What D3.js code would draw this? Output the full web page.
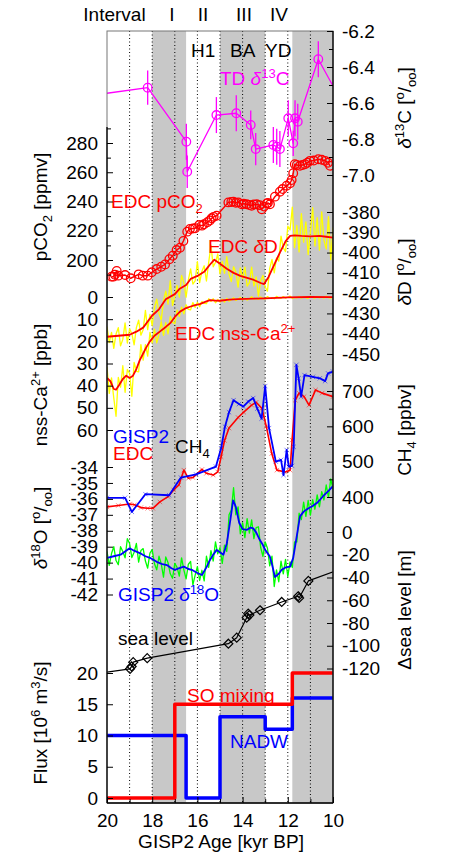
<!DOCTYPE html>
<html>
<head>
<meta charset="utf-8">
<script src="https://cdn.jsdelivr.net/npm/d3@7"></script>
<style>
  body { margin: 0; background: #fff; }
  text { font-family: "Liberation Sans", Arial, sans-serif; }
</style>
</head>
<body>
<script>
// ---- data ----
var bands = [[18, 16.5], [15, 13], [11.8, 10]];
var dottedAges = [19, 18, 17, 16, 15, 14, 13, 12, 11];
var intervalNames = ['I', 'II', 'III', 'IV'];
var intervalX = [172, 203, 244, 279];

// TD delta13C (points outside 20..10 only carry the line to the edge)
var d13cAge = [20.6, 18.2, 16.49, 16.45, 15.16, 14.28, 13.64, 13.42, 12.64, 12.49, 12.35, 11.98, 11.76, 11.68, 11.56, 10.65, 9.6];
var d13cVal = [-6.556, -6.515, -6.815, -6.982, -6.667, -6.657, -6.722, -6.856, -6.833, -6.843, -6.856, -6.685, -6.824, -6.685, -6.704, -6.357, -6.597];
var d13cErr = [0.1, 0.095, 0.1, 0.09, 0.1, 0.1, 0.08, 0.09, 0.1, 0.1, 0.1, 0.1, 0.07, 0.1, 0.1, 0.1, 0.1];

// EDC pCO2
var co2Age = [19.8, 19.72, 19.65, 19.57, 19.5, 19.2, 18.95, 18.6, 18.42, 18.2, 18.02, 17.8, 17.6, 17.43, 17.24, 17.09, 16.92, 16.77, 16.62, 16.45, 16.33, 16.2, 16.1, 15.92, 15.8, 15.71, 15.56, 15.45, 15.37, 15.28, 15.15, 14.63, 14.5, 14.41, 14.3, 14.19, 14.04, 13.95, 13.82, 13.7, 13.6, 13.5, 13.38, 13.25, 13.15, 13.05, 12.93, 12.88, 12.79, 12.57, 12.35, 12.23, 12.05, 11.9, 11.83, 11.76, 11.69, 11.6, 11.46, 11.35, 11.24, 11.13, 11.02, 10.85, 10.65, 10.5, 10.35, 10.22, 10.13];
var co2Val = [188.6, 188.6, 190, 192.5, 189.3, 189.7, 187.5, 190.2, 189.3, 189.3, 191.6, 193.8, 195.4, 197.0, 200.5, 202.9, 206.8, 208.4, 213, 219.4, 221.2, 221.5, 221.7, 223.9, 223.5, 224.4, 225.8, 227, 228.5, 229.5, 230.3, 239.4, 239.7, 239.9, 239.1, 239.4, 238.1, 238.5, 238.1, 237.6, 237.1, 238, 238.1, 237.5, 234.7, 236.5, 238.7, 239, 238.1, 243.3, 246.7, 248.5, 250.8, 252.5, 254.7, 259.3, 265.5, 265, 264.4, 265, 265.5, 266.5, 267.8, 268, 268.9, 268.5, 267.8, 266.5, 264.4];

// raw ice-core records, one value every 0.1 kyr
var rawAge = [20.0, 19.9, 19.8, 19.7, 19.6, 19.5, 19.4, 19.3, 19.2, 19.1,
  19.0, 18.9, 18.8, 18.7, 18.6, 18.5, 18.4, 18.3, 18.2, 18.1,
  18.0, 17.9, 17.8, 17.7, 17.6, 17.5, 17.4, 17.3, 17.2, 17.1,
  17.0, 16.9, 16.8, 16.7, 16.6, 16.5, 16.4, 16.3, 16.2, 16.1,
  16.0, 15.9, 15.8, 15.7, 15.6, 15.5, 15.4, 15.3, 15.2, 15.1,
  15.0, 14.9, 14.8, 14.7, 14.6, 14.5, 14.4, 14.3, 14.2, 14.1,
  14.0, 13.9, 13.8, 13.7, 13.6, 13.5, 13.4, 13.3, 13.2, 13.1,
  13.0, 12.9, 12.8, 12.7, 12.6, 12.5, 12.4, 12.3, 12.2, 12.1,
  12.0, 11.9, 11.8, 11.7, 11.6, 11.5, 11.4, 11.3, 11.2, 11.1,
  11.0, 10.9, 10.8, 10.7, 10.6, 10.5, 10.4, 10.3, 10.2, 10.1,
  10.0];
var dDRaw = [-436.5, -444.4, -439.3, -447.2, -440.1, -437, -446, -442.8, -434.7, -444.6,
  -437.5, -440, -445.5, -437, -433.3, -440.7, -438, -428.5, -438, -430.5,
  -436, -427, -423, -430, -433.3, -423.7, -419, -425.4, -413.8, -426.1,
  -421.5, -416.2, -422, -411.3, -414.7, -422, -413.5, -408, -415.5, -414,
  -404.5, -414.8, -409.2, -406.5, -414, -404.8, -396.4, -407, -404.9, -400.7,
  -410.5, -404.3, -410.2, -402, -410.7, -414.3, -407, -409.5, -417, -407.5,
  -412.8, -407.2, -416.5, -414.8, -407.2, -416.5, -412, -421.5, -414, -411.3,
  -417, -419, -407.8, -403.4, -410, -402.6, -404.2, -391.9, -397.7, -399.5,
  -387, -388.8, -377.6, -397.5, -386.6, -399.7, -380.8, -394.9, -384.9, -401,
  -390, -377.9, -396.8, -382.8, -398.8, -379.9, -394, -398.2, -382.3, -403.5,
  -387.6];
var caRaw = [31.5, 43.5, 36.5, 45.5, 53.8, 36.3, 40.7, 31, 43, 32.7,
  34.5, 44.8, 29.5, 33.5, 33.8, 21.5, 28.5, 21.5, 26.7, 16,
  20.7, 14.5, 20.7, 16.9, 11.1, 17.3, 11.5, 16.6, 8.8, 11.4,
  12, 5.9, 8.8, 4.6, 7.6, 3.5, 5.6, 5.8, 2.5, 4.7,
  2.4, 4.4, 2, 2.9, 3, 0.8, 2, 0.8, 2.6, 1.15,
  2.3, 1, 2.3, 0.6, 1.9, 1.2, 0.3, 1.5, 0.9, 0.2,
  1.3, 0.4, 1.4, 0.8, -0.1, 1.0, 0.5, 1.1, 0.0, 0.7,
  0.9, -0.2, 0.6, 0.3, 0.8, -0.3, 0.4, 0.6, -0.2, 0.5,
  0.1, -0.4, 0.6, 0.2, 0.4, -0.3, 0.5, -0.1, 0.3, 0.6,
  -0.4, 0.2, 0.5, -0.3, 0.4, 0.0, 0.5, -0.4, 0.3, 0.5,
  -0.2];
var d18ORaw = [-39.3, -40.17, -39.43, -39.0, -39.87, -40.13, -39.0, -39.3, -39.7, -38.5,
  -38.8, -39.68, -39.35, -38.8, -39.97, -39.24, -39.12, -39.9, -40.35, -39.4,
  -39.18, -40.07, -40.45, -39.6, -40.07, -40.91, -39.64, -40.0, -40.7, -40.98,
  -40.05, -40.3, -40.85, -39.7, -40.45, -41.02, -40.1, -39.93, -41.4, -40.78,
  -40.25, -41.12, -40.48, -41.15, -39.6, -40.3, -39.25, -39.9, -38.7, -39.45,
  -39.05, -40.05, -38.9, -39.3, -37.0, -36.7, -35.3, -37.0, -36.5, -38.2,
  -37.5, -38.43, -37.24, -38.15, -37.32, -38.5, -37.8, -37.75, -39.05, -39.6,
  -38.7, -39.1, -40.2, -39.6, -41.5, -40.45, -41.2, -39.9, -40.7, -39.8,
  -40.87, -39.95, -40.3, -38.7, -38.7, -36.9, -37.3, -36.2, -37.1, -36.1,
  -37.02, -36.05, -36.65, -35.75, -36.5, -35.55, -36.07, -35.13, -35.9, -34.75,
  -35.4];

// smoothed EDC deltaD
var dDAge = [20.0, 19.5, 19.0, 18.7, 18.4, 18.0, 17.7, 17.4, 17.0, 16.8, 16.5, 16.3, 16.0, 15.7, 15.45, 15.25, 15.0, 14.7, 14.4, 14.1, 13.8, 13.5, 13.2, 13.05, 12.85, 12.6, 12.35, 12.1, 11.9, 11.7, 11.4, 11.0, 10.6, 10.3, 10.0];
var dDVal = [-441.5, -441, -440.5, -439, -437, -431, -428, -423, -420.5, -418, -416, -413, -411.5, -409.5, -406, -403.5, -405.5, -408, -410, -411.5, -412.5, -413.5, -415, -415.5, -412, -406, -400, -394.5, -391.8, -391.5, -391.8, -392, -391.8, -392.2, -392.6];

// smoothed EDC nss-Ca2+
var caAge = [20.0, 19.85, 19.7, 19.6, 19.45, 19.3, 19.15, 19.0, 18.85, 18.7, 18.55, 18.4, 18.25, 18.1, 17.9, 17.65, 17.4, 17.2, 17.0, 16.77, 16.5, 16.33, 16.1, 15.9, 15.6, 15.44, 15.2, 15.0, 14.6, 14.2, 13.5, 13.0, 12.0, 11.0, 10.0];
var caVal = [36.5, 38, 41.5, 41.8, 39.5, 37, 35.5, 36.5, 35.5, 32.5, 28.5, 25.5, 22.5, 20, 17.5, 15.5, 13.5, 11.8, 9, 6.6, 5, 4.4, 3.7, 3.2, 2, 1.4, 1.6, 1.7, 1.2, 1.0, 0.7, 0.6, 0.2, 0, 0.1];

// CH4
var ch4GAge = [20.0, 19.2, 18.9, 18.3, 17.25, 16.73, 16.06, 15.18, 14.95, 14.78, 14.6, 14.4, 14.16, 13.97, 13.75, 13.53, 13.35, 13.16, 13.0, 12.83, 12.53, 12.3, 12.19, 12.05, 11.96, 11.81, 11.74, 11.62, 11.52, 11.41, 11.26, 10.89, 10.58, 10.35, 10.22, 10.0];
var ch4GVal = [397.7, 397.7, 358, 408, 405, 455, 464, 486, 538, 599, 640, 674, 663, 656, 670, 680, 650, 622, 714, 595, 500, 505, 462, 533, 486, 488, 542, 774, 736, 684, 745, 740, 736, 728, 750, 755];
var ch4EAge = [20.0, 19.5, 19.0, 18.78, 18.5, 18.2, 17.97, 17.66, 17.3, 17.05, 16.82, 16.6, 16.4, 16.2, 15.8, 15.6, 15.3, 15.1, 14.95, 14.8, 14.6, 14.2, 13.95, 13.6, 13.4, 13.15, 12.95, 12.71, 12.48, 12.11, 11.9, 11.81, 11.67, 11.5, 11.28, 11.06, 10.77, 10.48, 10.0];
var ch4EVal = [372, 376, 380, 378, 370, 368, 368, 386, 401, 420, 434, 476, 453, 455, 478, 467, 462, 471, 514, 560, 595, 625, 640, 660, 668, 651, 600, 523, 476, 471, 476, 561, 674, 694, 684, 660, 703, 694, 684];

// smoothed GISP2 delta18O
var d18OAge = [20.0, 19.7, 19.4, 19.2, 19.0, 18.8, 18.55, 18.3, 18.1, 17.8, 17.55, 17.35, 17.15, 17.0, 16.8, 16.6, 16.4, 16.25, 16.0, 15.8, 15.6, 15.45, 15.3, 15.15, 15.0, 14.85, 14.7, 14.55, 14.42, 14.3, 14.15, 14.0, 13.82, 13.65, 13.53, 13.4, 13.23, 13.1, 13.0, 12.8, 12.7, 12.57, 12.4, 12.27, 12.1, 11.9, 11.76, 11.6, 11.46, 11.3, 11.1, 10.9, 10.7, 10.45, 10.2, 10.0];
var d18OVal = [-39.7, -39.6, -39.5, -39.3, -39.1, -39.25, -39.4, -39.6, -39.7, -39.95, -40.1, -40.15, -40.35, -40.45, -40.35, -40.25, -40.4, -40.45, -40.65, -40.78, -40.3, -39.85, -39.5, -39.2, -39.35, -39.5, -38.8, -37.4, -36.1, -36.5, -37.5, -37.9, -37.95, -37.8, -37.85, -38.1, -38.6, -38.9, -39.2, -39.6, -40.1, -40.9, -40.7, -40.45, -40.3, -40.25, -39.7, -38.3, -37.1, -36.8, -36.6, -36.45, -36.25, -35.85, -35.5, -35.2];

// sea level
var seaAge = [20.5, 18.98, 18.91, 18.84, 18.22, 14.63, 14.26, 13.82, 13.75, 13.7, 13.23, 12.27, 11.54, 11.5, 11.09, 9.5];
var seaVal = [-124.6, -120.3, -118.2, -114.4, -110.9, -98.2, -92.9, -75.3, -71.8, -73, -68.8, -61.5, -56.5, -58, -43, -31.3];

// fluxes (step functions)
var soAge = [20, 17, 17, 11.8, 11.8, 10];
var soVal = [0, 0, 15, 15, 20, 20];
var nadwAge = [20, 16.5, 16.5, 15, 15, 13, 13, 11.8, 11.8, 10];
var nadwVal = [10, 10, 0, 0, 13, 13, 11, 11, 16, 16];

// ---- layout ----
var svgWidth = 465, svgHeight = 854;
var plotLeft = 107, plotRight = 333, plotTop = 31, plotBottom = 803;

var svg = d3.select('body').append('svg')
  .attr('width', svgWidth)
  .attr('height', svgHeight);

var x = d3.scaleLinear().domain([20, 10]).range([plotLeft, plotRight]);
var yD13C = d3.scaleLinear().domain([-7.0, -6.2]).range([175, 31]);
var yCO2 = d3.scaleLinear().domain([200, 280]).range([260, 143]);
var yDD = d3.scaleLinear().domain([-450, -380]).range([354, 212]);
var yCa = d3.scaleLinear().domain([0, 60]).range([297, 430]);
var yCH4 = d3.scaleLinear().domain([400, 700]).range([497, 391]);
var yO18 = d3.scaleLinear().domain([-42, -34]).range([594.5, 467]);
var ySea = d3.scaleLinear().domain([-120, 0]).range([668.5, 532]);
var yFlux = d3.scaleLinear().domain([0, 20]).range([798, 673]);

svg.append('clipPath').attr('id', 'plotClip')
  .append('rect')
  .attr('x', plotLeft).attr('y', plotTop)
  .attr('width', plotRight - plotLeft).attr('height', plotBottom - plotTop);

var plot = svg.append('g').attr('clip-path', 'url(#plotClip)');

// grey interval bands
plot.selectAll('.band').data(bands).enter().append('rect')
  .attr('x', d => x(d[0]))
  .attr('width', d => x(d[1]) - x(d[0]))
  .attr('y', plotTop).attr('height', plotBottom - plotTop)
  .attr('fill', '#c8c8c8');

// dotted age lines
plot.selectAll('.dot-line').data(dottedAges).enter().append('line')
  .attr('x1', d => x(d)).attr('x2', d => x(d))
  .attr('y1', plotTop).attr('y2', plotBottom)
  .attr('stroke', '#000').attr('stroke-width', 1)
  .attr('stroke-dasharray', '1,2.5');

function series(ages, vals) {
  return ages.map((a, i) => ({ age: a, v: vals[i] }));
}
function drawLine(data, yScale, color, width) {
  plot.append('path').datum(data)
    .attr('fill', 'none').attr('stroke', color).attr('stroke-width', width)
    .attr('stroke-linejoin', 'round')
    .attr('d', d3.line().x(d => x(d.age)).y(d => yScale(d.v)));
}

// delta13C with error bars
var d13c = d13cAge.map((a, i) => ({ age: a, v: d13cVal[i], e: d13cErr[i] }));
drawLine(d13c, yD13C, '#ff00ff', 1.3);
plot.selectAll('.err13').data(d13c).enter().append('line')
  .attr('x1', d => x(d.age)).attr('x2', d => x(d.age))
  .attr('y1', d => yD13C(d.v - d.e)).attr('y2', d => yD13C(d.v + d.e))
  .attr('stroke', '#ff00ff').attr('stroke-width', 1.3);
plot.selectAll('.c13').data(d13c).enter().append('circle')
  .attr('cx', d => x(d.age)).attr('cy', d => yD13C(d.v)).attr('r', 4.3)
  .attr('fill', 'none').attr('stroke', '#ff00ff').attr('stroke-width', 1.3);

// pCO2
var co2 = series(co2Age, co2Val);
drawLine(co2, yCO2, '#ff0000', 1.5);
plot.selectAll('.cco2').data(co2).enter().append('circle')
  .attr('cx', d => x(d.age)).attr('cy', d => yCO2(d.v)).attr('r', 4.3)
  .attr('fill', 'none').attr('stroke', '#ff0000').attr('stroke-width', 1.3);

// deltaD and nss-Ca
drawLine(series(rawAge, dDRaw), yDD, '#ffff00', 1.3);
drawLine(series(dDAge, dDVal), yDD, '#ff0000', 1.8);
drawLine(series(rawAge, caRaw), yCa, '#ffff00', 1.3);
drawLine(series(caAge, caVal), yCa, '#ff0000', 1.8);

// CH4
function crosses(data, yScale, color) {
  plot.selectAll(null).data(data).enter().append('path')
    .attr('d', d => {
      var cx = x(d.age), cy = yScale(d.v), s = 2.2;
      return `M${cx - s},${cy - s}L${cx + s},${cy + s}M${cx - s},${cy + s}L${cx + s},${cy - s}`;
    })
    .attr('stroke', color).attr('stroke-width', 0.8).attr('opacity', 0.6);
}
var ch4E = series(ch4EAge, ch4EVal);
var ch4G = series(ch4GAge, ch4GVal);
drawLine(ch4E, yCH4, '#ff0000', 1.6);
crosses(ch4E, yCH4, '#ff0000');
drawLine(ch4G, yCH4, '#0000ff', 1.8);
crosses(ch4G, yCH4, '#0000ff');

// delta18O
drawLine(series(rawAge, d18ORaw), yO18, '#00ff00', 1.3);
drawLine(series(d18OAge, d18OVal), yO18, '#0000ff', 1.8);

// sea level
var sea = series(seaAge, seaVal);
drawLine(sea, ySea, '#000', 1.2);
plot.selectAll('.dia').data(sea).enter().append('path')
  .attr('d', d => {
    var cx = x(d.age), cy = ySea(d.v), s = 4.5;
    return `M${cx},${cy - s}L${cx + s},${cy}L${cx},${cy + s}L${cx - s},${cy}Z`;
  })
  .attr('fill', 'none').attr('stroke', '#000').attr('stroke-width', 1.2);

// fluxes
drawLine(series(nadwAge, nadwVal), yFlux, '#0000ff', 3.5);
drawLine(series(soAge, soVal), yFlux, '#ff0000', 3.5);

// ---- frame and axes ----
svg.append('rect')
  .attr('x', plotLeft).attr('y', plotTop)
  .attr('width', plotRight - plotLeft).attr('height', plotBottom - plotTop)
  .attr('fill', 'none').attr('stroke', '#777').attr('stroke-width', 1);
svg.append('line').attr('x1', plotLeft).attr('x2', plotLeft).attr('y1', 127).attr('y2', plotBottom)
  .attr('stroke', '#000').attr('stroke-width', 1.3);
svg.append('line').attr('x1', plotRight).attr('x2', plotRight).attr('y1', plotTop).attr('y2', plotBottom)
  .attr('stroke', '#000').attr('stroke-width', 1.3);
svg.append('line').attr('x1', plotLeft).attr('x2', plotRight).attr('y1', plotBottom).attr('y2', plotBottom)
  .attr('stroke', '#000').attr('stroke-width', 1.3);

function styleAxis(g) {
  g.select('.domain').remove();
  g.selectAll('line').attr('stroke', '#000');
  g.selectAll('text').style('font-size', '19px').attr('fill', '#000')
    .style('font-family', '"Liberation Sans", Arial, sans-serif');
}
function fmt(v) { return String(v).replace('\u2212', '-'); }

function leftAxis(scale, major, minor, format) {
  svg.append('g').attr('transform', `translate(${plotLeft},0)`)
    .call(d3.axisLeft(scale).tickValues(minor).tickSizeInner(-4).tickSizeOuter(0).tickFormat(''))
    .call(styleAxis);
  svg.append('g').attr('transform', `translate(${plotLeft},0)`)
    .call(d3.axisLeft(scale).tickValues(major).tickSizeInner(-6).tickSizeOuter(0).tickPadding(9).tickFormat(format || fmt))
    .call(styleAxis);
}
function rightAxis(scale, major, minor, format) {
  svg.append('g').attr('transform', `translate(${plotRight},0)`)
    .call(d3.axisRight(scale).tickValues(minor).tickSizeInner(-4).tickSizeOuter(0).tickFormat(''))
    .call(styleAxis);
  svg.append('g').attr('transform', `translate(${plotRight},0)`)
    .call(d3.axisRight(scale).tickValues(major).tickSizeInner(-6).tickSizeOuter(0).tickPadding(9).tickFormat(format || fmt))
    .call(styleAxis);
}

leftAxis(yCO2, [200, 220, 240, 260, 280], [190, 210, 230, 250, 270, 290]);
leftAxis(yCa, [0, 10, 20, 30, 40, 50, 60], []);
leftAxis(yO18, [-34, -35, -36, -37, -38, -39, -40, -41, -42], []);
leftAxis(yFlux, [0, 5, 10, 15, 20], []);

rightAxis(yD13C, [-6.2, -6.4, -6.6, -6.8, -7.0], [-6.3, -6.5, -6.7, -6.9], d => d.toFixed(1));
rightAxis(yDD, [-380, -390, -400, -410, -420, -430, -440, -450], []);
rightAxis(yCH4, [400, 500, 600, 700], [450, 550, 650]);
rightAxis(ySea, [0, -20, -40, -60, -80, -100, -120], []);

svg.append('g').attr('transform', `translate(0,${plotBottom})`)
  .call(d3.axisBottom(x).tickValues([19, 17, 15, 13, 11]).tickSizeInner(-4).tickSizeOuter(0).tickFormat(''))
  .call(styleAxis);
svg.append('g').attr('transform', `translate(0,${plotBottom})`)
  .call(d3.axisBottom(x).tickValues([20, 18, 16, 14, 12, 10]).tickSizeInner(-6).tickSizeOuter(0).tickPadding(10.5).tickFormat(d3.format('d')))
  .call(styleAxis);

// ---- text labels ----
function rich(parts, px, py, opts) {
  opts = opts || {};
  var t = svg.append('text')
    .attr('transform', `translate(${px},${py})` + (opts.rot ? ' rotate(-90)' : ''))
    .attr('text-anchor', opts.anchor || 'start')
    .attr('fill', opts.color || '#000')
    .style('font-size', '19px');
  var shift = 0;
  parts.forEach(p => {
    var s = typeof p === 'string' ? p : p[0];
    var k = typeof p === 'string' ? '' : p[1];
    var target = k === 'sup' ? -7 : (k === 'sub' ? 5 : 0);
    var ts = t.append('tspan').text(s).attr('dy', target - shift);
    shift = target;
    if (k === 'sup' || k === 'sub') ts.style('font-size', '13px');
    if (k === 'it') ts.style('font-style', 'italic');
  });
  return t;
}
var permil = [' [', ['o', 'sup'], '/', ['oo', 'sub'], ']'];

rich(['Interval'], 114.5, 21, { anchor: 'middle' });
intervalNames.forEach((n, i) => rich([n], intervalX[i], 21, { anchor: 'middle' }));

rich(['H1'], 191, 57);
rich(['BA'], 230, 57);
rich(['YD'], 265, 57);

rich(['TD ', ['\u03b4', 'it'], ['13', 'sup'], 'C'], 220, 85, { color: '#ff00ff' });
rich(['EDC pCO', ['2', 'sub']], 111, 208, { color: '#ff0000' });
rich(['EDC ', ['\u03b4', 'it'], 'D'], 208, 253, { color: '#ff0000' });
rich(['EDC nss-Ca', ['2+', 'sup']], 175, 340, { color: '#ff0000' });
rich(['GISP2'], 113, 443, { color: '#0000ff' });
rich(['EDC'], 113, 460, { color: '#ff0000' });
rich(['CH', ['4', 'sub']], 175, 453);
rich(['GISP2 ', ['\u03b4', 'it'], ['18', 'sup'], 'O'], 118, 601, { color: '#0000ff' });
rich(['sea level'], 118, 645);
rich(['SO mixing'], 187, 702, { color: '#ff0000' });
rich(['NADW'], 230, 748, { color: '#0000ff' });

// axis titles
rich(['pCO', ['2', 'sub'], ' [ppmv]'], 47, 207, { rot: true, anchor: 'middle' });
rich(['nss-Ca', ['2+', 'sup'], ' [ppb]'], 47, 385, { rot: true, anchor: 'middle' });
rich([['\u03b4', 'it'], ['18', 'sup'], 'O'].concat(permil), 47, 528, { rot: true, anchor: 'middle' });
rich(['Flux [10', ['6', 'sup'], ' m', ['3', 'sup'], '/s]'], 47, 723, { rot: true, anchor: 'middle' });

rich([['\u03b4', 'it'], ['13', 'sup'], 'C'].concat(permil), 411, 108, { rot: true, anchor: 'middle' });
rich([['\u03b4', 'it'], 'D'].concat(permil), 411, 272, { rot: true, anchor: 'middle' });
rich(['CH', ['4', 'sub'], ' [ppbv]'], 411, 430, { rot: true, anchor: 'middle' });
rich(['\u0394sea level [m]'], 411, 610, { rot: true, anchor: 'middle' });

rich(['GISP2 Age [kyr BP]'], 221, 848, { anchor: 'middle' });
</script>
</body>
</html>
